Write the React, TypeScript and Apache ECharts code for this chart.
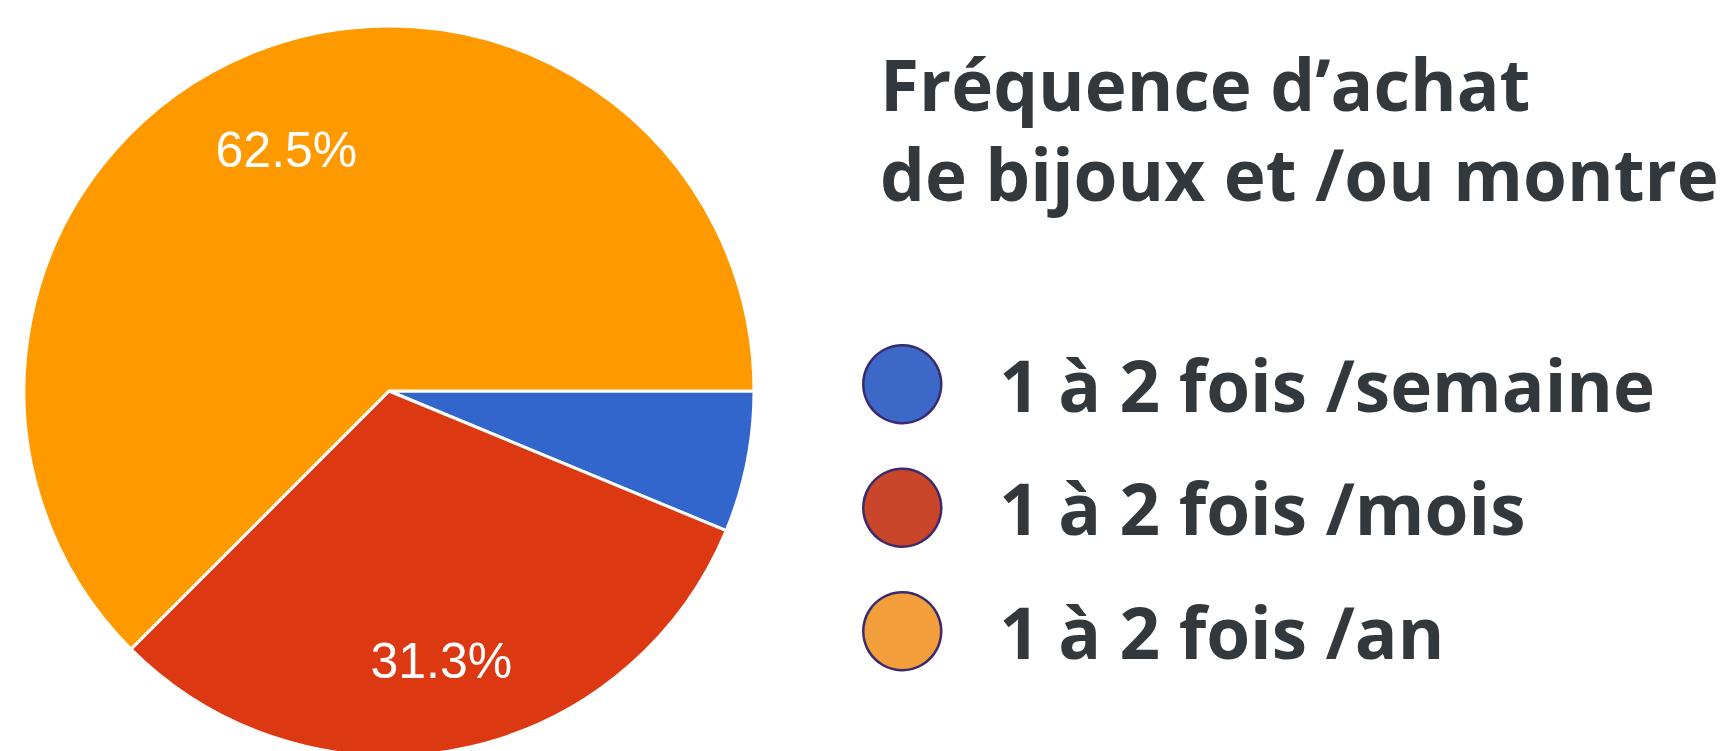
import React, { useEffect, useRef } from "react";
import * as echarts from "echarts";

const categories = ["1 à 2 fois /semaine", "1 à 2 fois /mois", "1 à 2 fois /an"];
const counts = [1, 5, 10];
const sliceColors = ["#3366cc", "#dc3912", "#ff9900"];
const legendColors = ["#3c69c8", "#c9462a", "#f29e3a"];
const titleLines = ["Fréquence d’achat", "de bijoux et /ou montre"];

export default function App() {
  const ref = useRef<HTMLDivElement>(null);
  useEffect(() => {
    document.body.style.margin = "0";
    const chart = echarts.init(ref.current!, null, { renderer: "svg" });
    const total = counts.reduce((a, b) => a + b, 0);
    const pieData = categories.map((name, i) => ({
      name,
      value: counts[i],
      itemStyle: { color: sliceColors[i] },
    }));
    const labelData = categories.map((name, i) => ({
      name,
      value: counts[i],
      label: { show: counts[i] / total >= 0.1 },
    }));
    chart.setOption({
      animation: false,
      title: {
        text: titleLines.join("\n"),
        left: 875,
        top: 33,
        textStyle: {
          fontFamily: "Open Sans",
          fontWeight: "bold",
          fontSize: 71,
          lineHeight: 90,
          color: "#33383c",
        },
      },
      legend: {
        orient: "vertical",
        left: 857,
        top: 339,
        itemWidth: 78,
        itemHeight: 78,
        itemGap: 43,
        icon: "circle",
        selectedMode: false,
        data: categories.map((name, i) => ({
          name,
          itemStyle: { color: legendColors[i], borderColor: "#3b2a6e", borderWidth: 2.5 },
        })),
        textStyle: {
          fontFamily: "Open Sans",
          fontWeight: "bold",
          fontSize: 71,
          color: "#33383c",
          padding: [0, 0, 0, 53],
        },
      },
      series: [
        {
          type: "pie",
          center: [389, 391],
          radius: [0, 365],
          startAngle: 0,
          clockwise: true,
          silent: true,
          label: { show: false },
          labelLine: { show: false },
          itemStyle: { borderColor: "#ffffff", borderWidth: 3 },
          data: pieData,
        },
        {
          type: "pie",
          center: [389, 391],
          radius: [165, 365],
          startAngle: 0,
          clockwise: true,
          silent: true,
          legendHoverLink: false,
          itemStyle: { color: "transparent", borderWidth: 0 },
          label: {
            position: "inside",
            offset: [0, 7],
            fontFamily: "Liberation Sans",
            fontSize: 50,
            color: "#ffffff",
            formatter: (p: any) => ((p.value / total) * 100).toFixed(1) + "%",
          },
          labelLine: { show: false },
          data: labelData,
        },
      ],
    });
    return () => chart.dispose();
  }, []);
  return <div ref={ref} style={{ width: 1731, height: 751 }} />;
}
